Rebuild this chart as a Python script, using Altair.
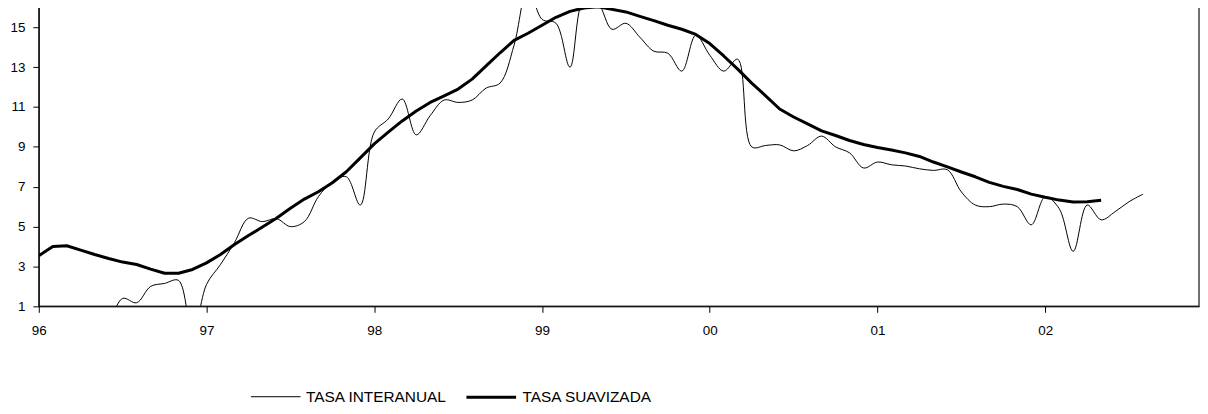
import altair as alt
import pandas as pd

# ---- data (monthly, Jan 1996 = index 0) ----
year_labels = ["96", "97", "98", "99", "00", "01", "02"]
series_names = ["TASA INTERANUAL", "TASA SUAVIZADA"]

tasa_interanual = [
    0.4, 0.3, 0.2, 0.1, 0.0, 0.3, 1.4, 1.18, 2.0, 2.15, 2.3, -0.4,
    2.1, 3.1, 4.2, 5.42, 5.25, 5.4, 5.0, 5.25, 6.5, 7.25, 7.5, 6.08,
    9.74, 10.4, 11.4, 9.6, 10.57, 11.35, 11.23, 11.35, 11.95, 12.2, 14.1, 17.0,
    15.4, 15.2, 13.0, 16.4, 16.2, 14.9, 15.2, 14.5, 13.8, 13.7, 12.8, 14.6,
    13.6, 12.8, 13.4, 9.0, 9.07, 9.1, 8.8, 9.07, 9.54, 9.0, 8.7, 7.94,
    8.24, 8.1, 8.04, 7.9, 7.82, 7.85, 6.74, 6.08, 6.0, 6.13, 6.0, 5.09,
    6.5, 5.9, 3.76, 6.08, 5.34, 5.75, 6.25, 6.63,
]

tasa_suavizada = [
    3.54, 4.0, 4.04, 3.82, 3.6, 3.4, 3.22, 3.1, 2.87, 2.66, 2.66, 2.85,
    3.18, 3.6, 4.1, 4.55, 4.98, 5.42, 5.92, 6.38, 6.75, 7.2, 7.75, 8.45,
    9.15, 9.74, 10.3, 10.8, 11.23, 11.56, 11.9, 12.4, 13.06, 13.72, 14.34, 14.7,
    15.1, 15.5, 15.8, 15.97, 16.03, 15.9, 15.77, 15.55, 15.33, 15.1, 14.9, 14.64,
    14.18, 13.56, 12.9, 12.2, 11.56, 10.9, 10.5, 10.15, 9.8, 9.57, 9.32, 9.12,
    8.97, 8.84, 8.7, 8.52, 8.24, 8.0, 7.74, 7.5, 7.22, 7.02, 6.86, 6.63,
    6.47, 6.33, 6.23, 6.25, 6.32,
]

y_ticks = [1, 3, 5, 7, 9, 11, 13, 15]

rows = []
for i, v in enumerate(tasa_interanual):
    rows.append({"mes": i, "tasa": v, "serie": series_names[0]})
for i, v in enumerate(tasa_suavizada):
    rows.append({"mes": i, "tasa": v, "serie": series_names[1]})
df = pd.DataFrame(rows)

FONT = "Liberation Sans"
label_expr = "[" + ",".join("'%s'" % y for y in year_labels) + "][round(datum.value/12)]"

x_enc = alt.X(
    "mes:Q",
    scale=alt.Scale(domain=[0, 83], nice=False, zero=False),
    axis=alt.Axis(
        title=None, values=[12 * k for k in range(len(year_labels))],
        labelExpr=label_expr, grid=False, tickSize=6, labelPadding=11,
        labelFont=FONT, labelFontSize=13.5, labelColor="black",
        tickColor="black", domainColor="black", labelFlush=False,
    ),
)
y_enc = alt.Y(
    "tasa:Q",
    scale=alt.Scale(domain=[1, 16], nice=False, zero=False),
    axis=alt.Axis(
        title=None, values=y_ticks, grid=False, tickSize=6, labelPadding=8,
        labelFont=FONT, labelFontSize=13.5, labelColor="black",
        tickColor="black", domainColor="black",
    ),
)
sw_enc = alt.StrokeWidth(
    "serie:N",
    scale=alt.Scale(domain=series_names, range=[1, 3]),
    legend=alt.Legend(
        title=None, orient="none", legendX=213, legendY=366,
        direction="horizontal", symbolType="stroke", symbolSize=2500,
        symbolStrokeColor="black", labelFont=FONT, labelFontSize=15.5,
        labelColor="black", labelOffset=5, columnPadding=13,
    ),
)

thin = alt.Chart(df).transform_filter(
    alt.datum.serie == series_names[0]
).mark_line(color="black", interpolate="catmull-rom", clip=True).encode(
    x=x_enc, y=y_enc, strokeWidth=sw_enc
)
thick = alt.Chart(df).transform_filter(
    alt.datum.serie == series_names[1]
).mark_line(color="black", clip=True, strokeJoin="round").encode(
    x=x_enc, y=y_enc, strokeWidth=sw_enc
)

chart = alt.layer(thin, thick).properties(
    width=1168, height=301,
    autosize=alt.AutoSizeParams(type="none"),
    padding={"left": 31, "top": -2, "right": 1, "bottom": 99},
    background="white",
).configure_view(stroke="#404040", strokeWidth=1.5)

chart.save("out.html", embed_options={"renderer": "svg", "actions": False})
